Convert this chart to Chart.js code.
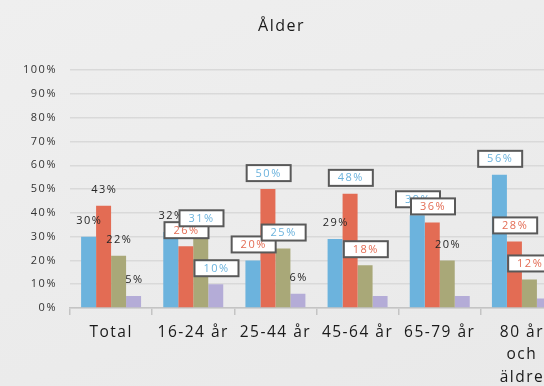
<!DOCTYPE html>
<html>
<head>
<meta charset="utf-8">
<script src="https://cdn.jsdelivr.net/npm/chart.js@4.4.0/dist/chart.umd.min.js"></script>
<style>
html,body{margin:0;padding:0;overflow:hidden;}
body{width:544px;height:386px;background:linear-gradient(160deg,#efefef 0%,#e9e9e9 100%);}
canvas{display:block;}
</style>
</head>
<body>
<canvas id="alder" width="574" height="386"></canvas>
<script>
// age groups and shares per series (percent)
const categories = ['Total', '16-24 år', '25-44 år', '45-64 år', '65-79 år', ['80 år', 'och', 'äldre']];
const serieA = [30, 32, 20, 29, 39, 56];
const serieB = [43, 26, 50, 48, 36, 28];
const serieC = [22, 31, 25, 18, 20, 12];
const serieD = [5, 10, 6, 5, 5, 4];
const yTicks = [0, 10, 20, 30, 40, 50, 60, 70, 80, 90, 100];

// how each value label is drawn: p = plain, b = box blue text, r = box red text, '' = none
const labelStyleA = ['p', 'p', 'r', 'p', 'b', 'b'];
const labelStyleB = ['p', 'r', 'b', 'b', 'r', 'r'];
const labelStyleC = ['p', 'b', 'b', 'r', 'p', 'r'];
const labelStyleD = ['p', 'b', 'p', '', '', ''];

const BLUE = '#6cb3dd';
const RED = '#e36c54';
const OLIVE = '#a9a878';
const LILAC = '#b4acd7';
const FONT = '"Open Sans", "Noto Sans", sans-serif';

const spacing = {
id: 'spacing',
beforeLayout(chart){ chart.ctx.letterSpacing = '1.5px'; },
beforeDraw(chart){ chart.ctx.letterSpacing = '1.5px'; }
};

const valueLabels = {
id: 'valueLabels',
afterDatasetsDraw(chart){
const ctx = chart.ctx;
const styles = [labelStyleA, labelStyleB, labelStyleC, labelStyleD];
ctx.save();
ctx.letterSpacing = '1.5px';
ctx.font = '11px ' + FONT;
ctx.textAlign = 'center';
ctx.textBaseline = 'middle';
chart.data.datasets.forEach((ds, d) => {
chart.getDatasetMeta(d).data.forEach((bar, i) => {
const st = styles[d][i];
if(!st) return;
const x = bar.x + 0.75;
const y = bar.y - 16;
const txt = ds.data[i] + '%';
if(st === 'p'){
ctx.fillStyle = '#262626';
ctx.fillText(txt, x, y);
return;
}
const w = 44, h = 16;
ctx.fillStyle = '#ffffff';
ctx.fillRect(x - w/2, y - h/2, w, h);
ctx.strokeStyle = '#595959';
ctx.lineWidth = 2;
ctx.strokeRect(x - w/2, y - h/2, w, h);
ctx.fillStyle = st === 'b' ? BLUE : RED;
ctx.fillText(txt, x, y + 0.5);
});
});
ctx.restore();
}
};

new Chart(document.getElementById('alder'), {
type: 'bar',
data: {
labels: categories,
datasets: [
{label: 'A', data: serieA, backgroundColor: BLUE},
{label: 'B', data: serieB, backgroundColor: RED},
{label: 'C', data: serieC, backgroundColor: OLIVE},
{label: 'D', data: serieD, backgroundColor: LILAC}
]
},
options: {
responsive: false,
animation: false,
categoryPercentage: 0.73,
barPercentage: 1,
layout: {padding: {left: 0, right: 11, top: 0, bottom: 0}},
plugins: {
legend: {display: false},
tooltip: {enabled: false},
title: {
display: true,
text: 'Ålder',
color: '#1a1a1a',
font: {family: FONT, size: 16, weight: 'normal'},
padding: {top: 17, bottom: 34}
}
},
scales: {
x: {
afterFit(scale){ scale.height = 78; },
grid: {display: true, drawOnChartArea: false, drawTicks: true, tickLength: 7, color: '#c4c4c4', lineWidth: 1.5},
border: {display: true, color: '#c4c4c4', width: 1.5},
ticks: {color: '#1a1a1a', font: {family: FONT, size: 15.5, lineHeight: 1.45}, padding: 6, maxRotation: 0, autoSkip: false}
},
y: {
min: 0,
max: 100,
afterFit(scale){ scale.width = 70; },
afterBuildTicks(scale){ scale.ticks = yTicks.map(v => ({value: v})); },
grid: {color: '#d9d9d9', lineWidth: 1.5, drawTicks: false},
border: {display: false},
ticks: {color: '#333333', font: {family: FONT, size: 11}, padding: 13, callback: v => v + '%'}
}
}
},
plugins: [spacing, valueLabels]
});
</script>
</body>
</html>
